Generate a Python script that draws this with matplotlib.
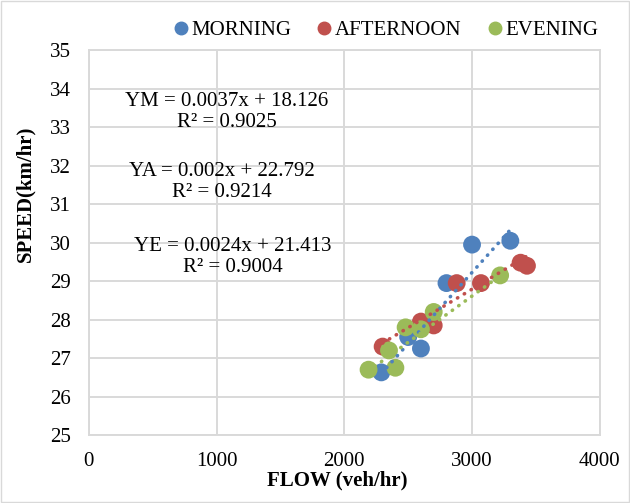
import matplotlib.pyplot as plt
from matplotlib.lines import Line2D
from matplotlib.patches import Rectangle
import numpy as np

plt.rcParams["font.family"] = ["Liberation Serif", "DejaVu Serif"]

series = ["MORNING", "AFTERNOON", "EVENING"]
colors = ["#4F81BD", "#C0504D", "#9BBB59"]

morning_flow = [2290, 2500, 2600, 2800, 3000, 3300]
morning_speed = [26.63, 27.55, 27.25, 28.95, 29.95, 30.05]
afternoon_flow = [2300, 2600, 2700, 2880, 3070, 3380, 3430]
afternoon_speed = [27.3, 27.95, 27.85, 28.95, 28.95, 29.48, 29.4]
evening_flow = [2190, 2350, 2400, 2480, 2600, 2700, 3220]
evening_speed = [26.7, 27.2, 26.75, 27.8, 27.75, 28.2, 29.15]

# trendline coefficients as printed on the chart
slopes = [0.0037, 0.002, 0.0024]
intercepts = [18.126, 22.792, 21.413]
r2 = [0.9025, 0.9214, 0.9004]
eq_names = ["YM", "YA", "YE"]

flows = [morning_flow, afternoon_flow, evening_flow]
speeds = [morning_speed, afternoon_speed, evening_speed]

fig = plt.figure(figsize=(6.3, 5.03), dpi=100)
ax = fig.add_axes([0.141, 0.135, 0.811, 0.765])

for f, s, c in zip(flows, speeds, colors):
    ax.scatter(f, s, s=165, color=c, edgecolors="none", zorder=3)

for f, m, b, c in zip(flows, slopes, intercepts, colors):
    xs = np.array([min(f), max(f)])
    ax.plot(xs, m * xs + b, color=c, lw=2.6, linestyle=(0, (0.1, 2.1)),
            dash_capstyle="round", zorder=4)

ax.set_xlim(0, 4000)
ax.set_ylim(25, 35)
ax.set_xticks(range(0, 4001, 1000))
ax.set_yticks(range(25, 36))
ax.grid(True, color="#D9D9D9", lw=1.4)
ax.set_axisbelow(True)
for sp in ax.spines.values():
    sp.set_color("#D9D9D9")
    sp.set_linewidth(1.4)
ax.tick_params(length=0, labelsize=15, pad=12)
ax.tick_params(axis="y", pad=13)

ax.set_xlabel("FLOW (veh/hr)", fontsize=15, fontweight="bold")
ax.set_ylabel("SPEED(km/hr)", fontsize=15, fontweight="bold")
ax.xaxis.set_label_coords(0.487, -0.117)
ax.yaxis.set_label_coords(-0.125, 0.627)
ax.xaxis.label.set_va("center")
ax.yaxis.label.set_va("center")

# equation labels (figure pixel positions)
label_pos = [(227, 112), (222, 182), (233, 257)]
for (px, py), n, m, b, r in zip(label_pos, eq_names, slopes, intercepts, r2):
    fig.text(px / 630, 1 - py / 503, f"{n} = {m:g}x + {b:g}\nR² = {r}",
             fontsize=15, ha="center", va="center", multialignment="center",
             linespacing=1.2)

handles = [Line2D([], [], marker="o", ls="none", color=c, markersize=9)
           for c in colors]
fig.legend(handles, series, loc="center", bbox_to_anchor=(0.61, 0.94),
           ncol=3, frameon=False, fontsize=15, handletextpad=0.0,
           columnspacing=1.1, handlelength=1.0)

fig.add_artist(Rectangle((0.002, 0.002), 0.996, 0.996, transform=fig.transFigure,
                         fill=False, edgecolor="#D9D9D9", lw=1))

fig.savefig("out.png", dpi=100)
